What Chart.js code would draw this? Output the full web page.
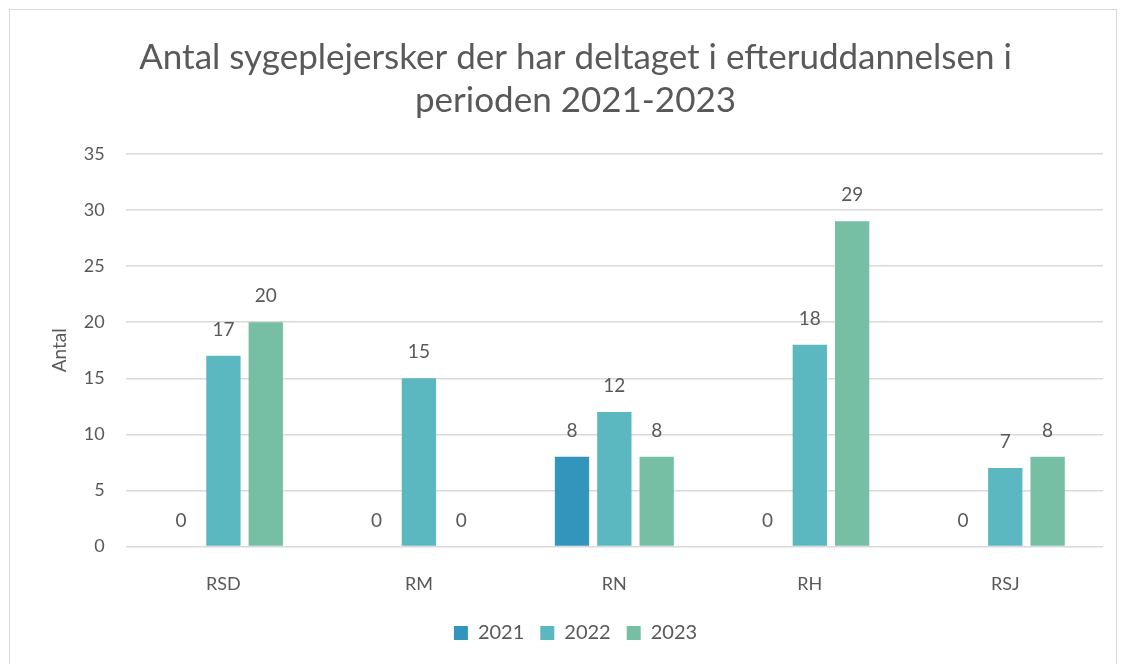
<!DOCTYPE html>
<html>
<head>
<meta charset="utf-8">
<script src="https://cdn.jsdelivr.net/npm/chart.js@4/dist/chart.umd.min.js"></script>
<style>
  body { margin: 0; background: #fff; }
  #frame { position: absolute; left: 9px; top: 9px; width: 1108px; height: 660px; border: 1px solid #d9d9d9; box-sizing: border-box; }
  canvas { display: block; }
</style>
</head>
<body>
<div id="frame"><canvas id="chart" width="1106" height="658"></canvas></div>
<script>
// Antal sygeplejersker pr. region, 2021-2023
const regions = ['RSD', 'RM', 'RN', 'RH', 'RSJ'];
const years = ['2021', '2022', '2023'];
const v2021 = [0, 0, 8, 0, 0];
const v2022 = [17, 15, 12, 18, 7];
const v2023 = [20, 0, 8, 29, 8];
const yTicks = [0, 5, 10, 15, 20, 25, 30, 35];
const colors = ['#3395bc', '#5bb7c0', '#76bfa5'];

const grey = '#595959';
const font = 'Lato, "Open Sans", sans-serif';

// value labels above each bar
const barLabels = {
    id: 'barLabels',
    afterDatasetsDraw(chart) {
        const ctx = chart.ctx;
        ctx.save();
        ctx.fillStyle = grey;
        ctx.font = '19px ' + font;
        ctx.textAlign = 'center';
        ctx.textBaseline = 'middle';
        chart.data.datasets.forEach((ds, i) => {
            chart.getDatasetMeta(i).data.forEach((bar, j) => {
                ctx.fillText(ds.data[j], bar.x, bar.y - 26);
            });
        });
        ctx.restore();
    }
};

new Chart(document.getElementById('chart').getContext('2d'), {
    type: 'bar',
    data: {
        labels: regions,
        datasets: [v2021, v2022, v2023].map((d, i) => ({
            label: years[i],
            data: d,
            backgroundColor: colors[i],
            categoryPercentage: 0.65,
            barPercentage: 0.81
        }))
    },
    options: {
        responsive: false,
        animation: false,
        layout: { padding: { left: 38, right: 13, top: 8, bottom: 15 } },
        plugins: {
            title: {
                display: true,
                text: ['Antal sygeplejersker der har deltaget i efteruddannelsen i', 'perioden 2021-2023'],
                color: grey,
                font: { family: font, size: 35, weight: 'normal', lineHeight: 1.23 },
                padding: { top: 18, bottom: 32 }
            },
            legend: {
                position: 'bottom',
                labels: { color: grey, font: { family: font, size: 20 }, boxWidth: 14, boxHeight: 14, padding: 16 }
            },
            tooltip: { enabled: false }
        },
        scales: {
            x: {
                grid: { display: false },
                border: { display: false },
                ticks: { color: grey, font: { family: font, size: 18 }, padding: 19 },
                afterFit: axis => { axis.height -= 7; }
            },
            y: {
                min: 0,
                max: 35,
                afterBuildTicks: axis => { axis.ticks = yTicks.map(v => ({ value: v })); },
                grid: { color: '#d9d9d9', lineWidth: 1.5, drawTicks: false },
                border: { display: false },
                ticks: { color: grey, font: { family: font, size: 18 }, padding: 21 },
                title: { display: true, text: 'Antal', color: grey, font: { family: font, size: 19 }, padding: { top: 0, bottom: -8 } }
            }
        }
    },
    plugins: [barLabels]
});
</script>
</body>
</html>
